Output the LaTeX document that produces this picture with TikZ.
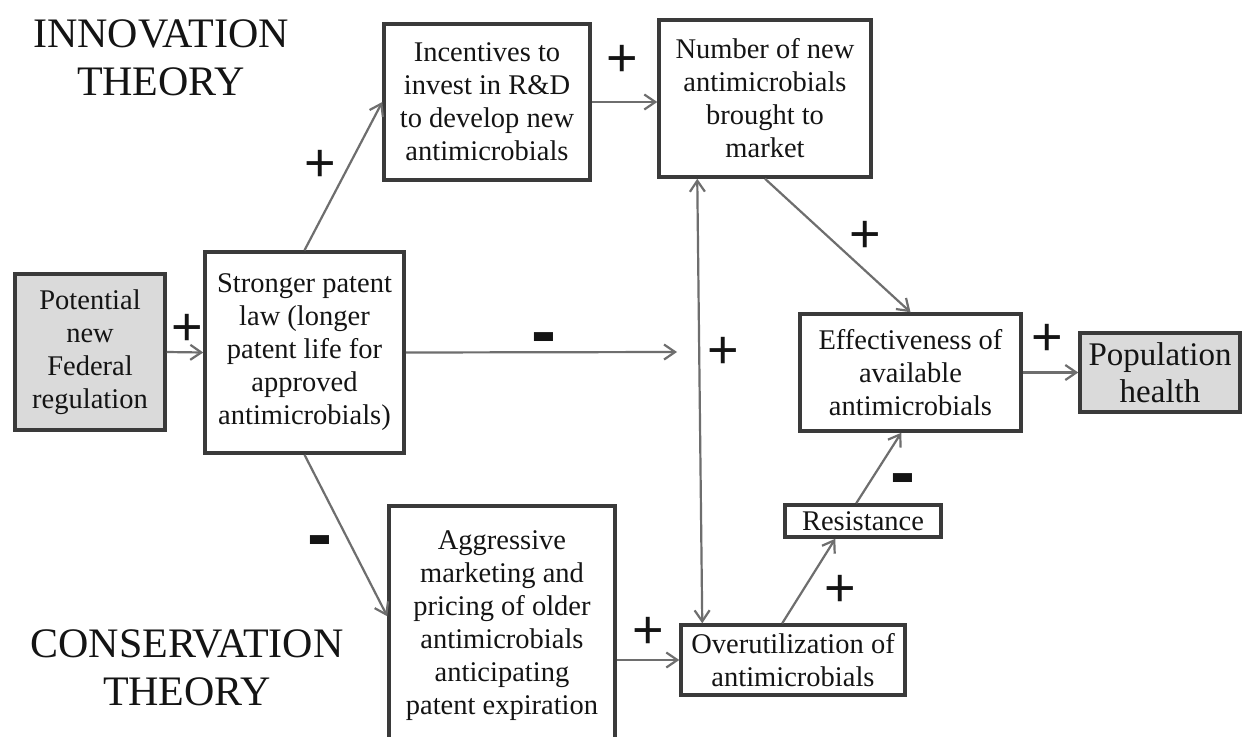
\documentclass[tikz,border=0pt]{standalone}
\usepackage{fontspec}
\setmainfont{Liberation Serif}
\newfontfamily\signfont{Liberation Sans}
\usetikzlibrary{arrows.meta,calc}
\definecolor{boxline}{HTML}{3A3A3A}
\definecolor{linkcol}{HTML}{6E6E6E}
\definecolor{boxfill}{HTML}{DADADA}
\definecolor{textcol}{HTML}{141414}
\begin{document}
\begin{tikzpicture}[x=1pt,y=-1pt,
  box/.style={draw=boxline, line width=3.5pt, fill=white, inner sep=0pt,
    align=center, text=textcol, font=\fontsize{28.5}{33}\selectfont},
  shaded/.style={box, fill=boxfill},
  link/.style={draw=linkcol, line width=2.2pt,
    -{Straight Barb[length=11pt,width=15pt]}},
  plus/.style={font=\signfont\fontsize{54}{54}\selectfont, inner sep=0pt,
    anchor=base, text=textcol},
  minus/.style={font=\signfont\bfseries\fontsize{75}{75}\selectfont,
    inner sep=0pt, anchor=base, text=textcol},
  theory/.style={align=center, inner sep=0pt, text=textcol,
    font=\fontsize{42}{48}\selectfont}
]
\useasboundingbox[fill=white] (0,0) rectangle (1244,736);

% theory headings
\node[theory] (inno) at (161,58) {INNOVATION\\THEORY};
\node[theory] (cons) at (187,668) {CONSERVATION\\THEORY};

% boxes
\node[shaded, minimum width=150pt, minimum height=156pt] (pot) at (90,352)
  {Potential\\new\\Federal\\regulation};
\node[box, minimum width=199pt, minimum height=201pt] (str) at (304.5,352.5)
  {Stronger patent\\law (longer\\patent life for\\approved\\antimicrobials)};
\node[box, minimum width=206pt, minimum height=156pt] (inc) at (487,102)
  {Incentives to\\invest in R\&D\\to develop new\\antimicrobials};
\node[box, minimum width=212pt, minimum height=157pt] (num) at (765,98.5)
  {Number of new\\antimicrobials\\brought to\\market};
\node[box, minimum width=221pt, minimum height=117pt] (eff) at (910.5,372.5)
  {Effectiveness of\\available\\antimicrobials};
\node[shaded, minimum width=160pt, minimum height=79pt,
  font=\fontsize{33}{37}\selectfont] (pop) at (1160,372.5)
  {Population\\health};
\node[box, minimum width=226pt, minimum height=240pt] (agg) at (502,626)
  {Aggressive\\marketing and\\pricing of older\\antimicrobials\\anticipating\\patent expiration};
\node[box, minimum width=224pt, minimum height=70pt] (ovr) at (793,660)
  {Overutilization of\\antimicrobials};
\node[box, minimum width=156pt, minimum height=32pt] (res) at (863,521)
  {Resistance};

% connectors
\coordinate (mid) at (677,352);
\draw[link] (pot.east) -- (str.west);
\draw[link] (str.north) -- (inc.west);
\draw[link] (inc.east) -- (num.west |- inc.east);
\draw[link] (num.south) -- (eff.north);
\draw[link] (str.east) -- (mid);
\draw[link, {Straight Barb[length=11pt,width=15pt]}-{Straight Barb[length=11pt,width=15pt]}]
  ($(num.south west)+(40,0)$) -- ($(ovr.north west)+(23,0)$);
\draw[link] (str.south) -- ($(agg.north west)+(0,112)$);
\draw[link] (agg.east |- ovr.west) -- (ovr.west);
\draw[link] ($(ovr.north west)+(103,0)$) -- ($(res.south west)+(52,0)$);
\draw[link] ($(res.north west)+(73,0)$) -- ($(eff.south west)+(103,0)$);
\draw[link] (eff.east) -- (pop.west);

% signs
\node[plus] (p1) at (187,345) {+};
\node[plus] (p2) at (320,181) {+};
\node[plus] (p3) at (622,76) {+};
\node[plus] (p4) at (865,252) {+};
\node[plus] (p5) at (723,368) {+};
\node[plus] (p6) at (1047,355) {+};
\node[plus] (p7) at (840,606) {+};
\node[plus] (p8) at (648,648) {+};
\node[minus] (m1) at (544,356.5) {-};
\node[minus] (m2) at (903,497.5) {-};
\node[minus] (m3) at (320,559.5) {-};
\end{tikzpicture}
\end{document}
